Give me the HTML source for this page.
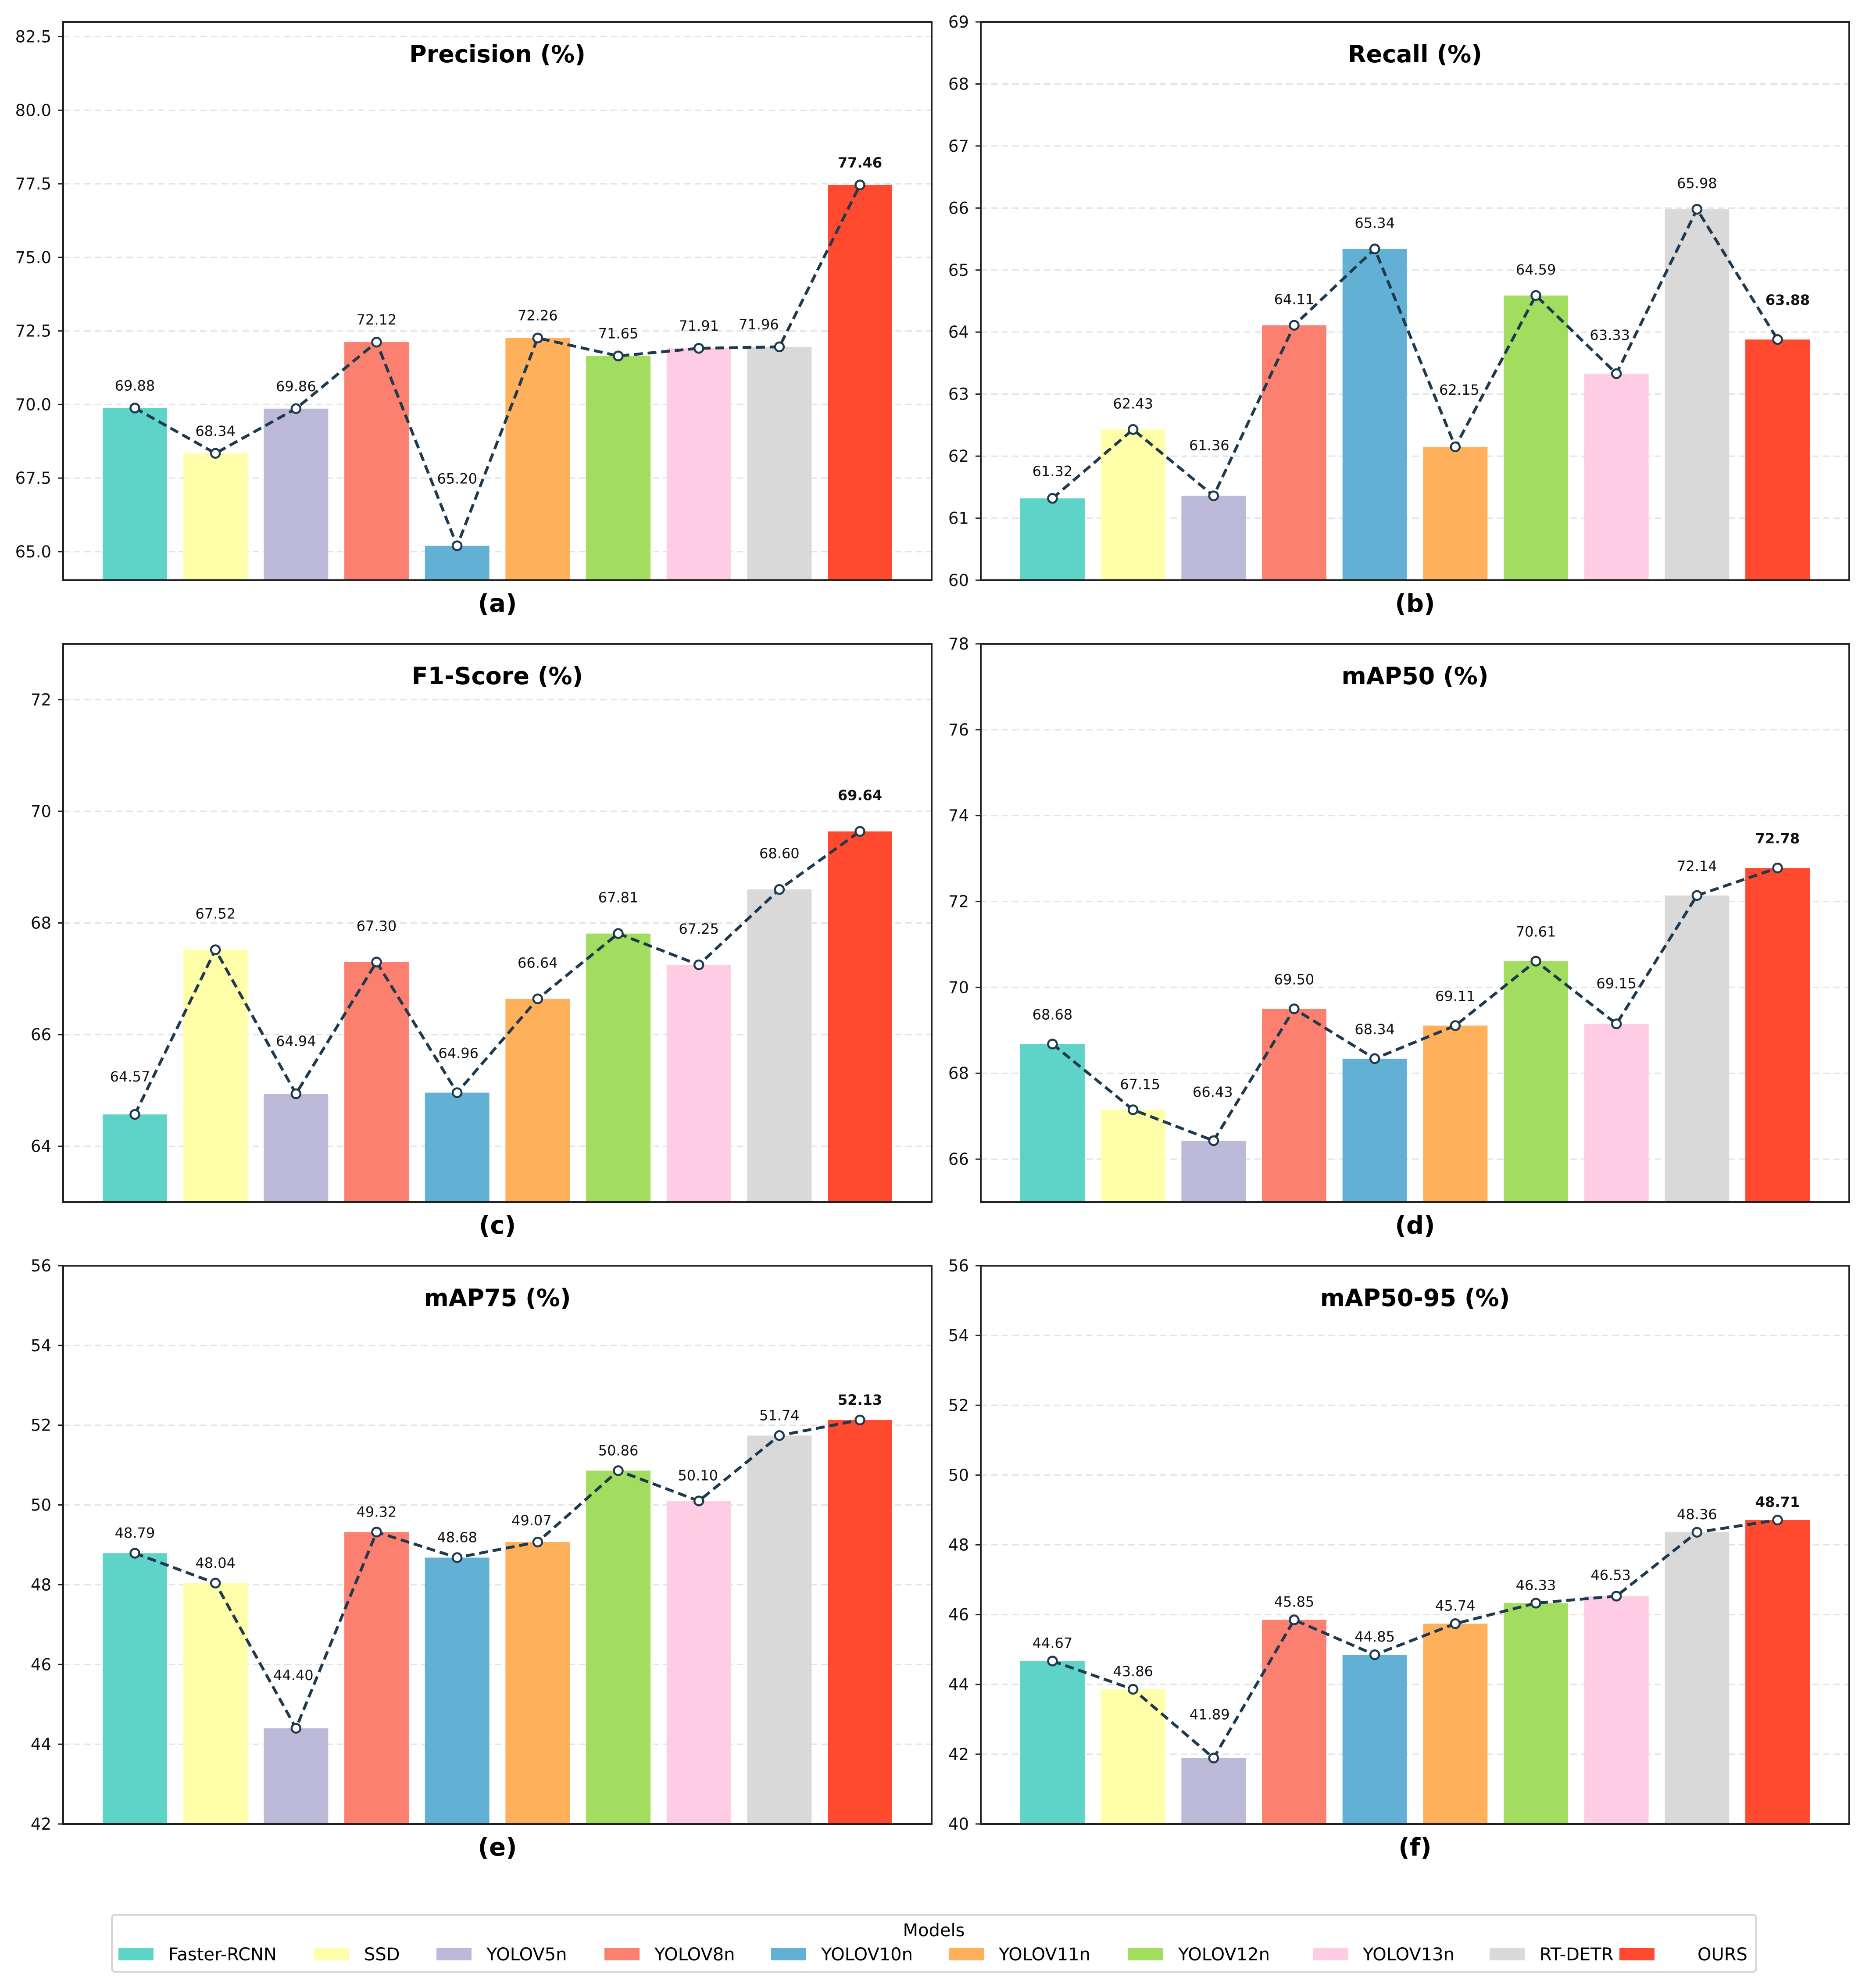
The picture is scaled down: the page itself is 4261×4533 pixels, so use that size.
<!DOCTYPE html>
<html><head><meta charset="utf-8">
<style>
html,body{margin:0;padding:0;background:#fff;}
svg{display:block;font-family:"DejaVu Sans","Liberation Sans",sans-serif;}
</style></head>
<body>
<svg id="chart" width="4261" height="4533" viewBox="0 0 4261 4533" xmlns="http://www.w3.org/2000/svg"></svg>
<script>
const models = ["Faster-RCNN","SSD","YOLOV5n","YOLOV8n","YOLOV10n","YOLOV11n","YOLOV12n","YOLOV13n","RT-DETR","OURS"];
const colors = ["#5ed3c7","#ffffaa","#bdb9d9","#fc8070","#62b0d4","#ffb05a","#a2dd60","#fecde4","#d9d9d9","#ff4a30"];
const titles = ["Precision (%)","Recall (%)","F1-Score (%)","mAP50 (%)","mAP75 (%)","mAP50-95 (%)"];
const panelLabels = ["(a)","(b)","(c)","(d)","(e)","(f)"];
const precisionValues = [69.88,68.34,69.86,72.12,65.20,72.26,71.65,71.91,71.96,77.46];
const recallValues = [61.32,62.43,61.36,64.11,65.34,62.15,64.59,63.33,65.98,63.88];
const f1Values = [64.57,67.52,64.94,67.30,64.96,66.64,67.81,67.25,68.60,69.64];
const map50Values = [68.68,67.15,66.43,69.50,68.34,69.11,70.61,69.15,72.14,72.78];
const map75Values = [48.79,48.04,44.40,49.32,48.68,49.07,50.86,50.10,51.74,52.13];
const map5095Values = [44.67,43.86,41.89,45.85,44.85,45.74,46.33,46.53,48.36,48.71];
const yMins = [64.03,60,63,65,42,40];
const yMaxs = [83.0,69,73,78,56,56];
const precisionTicks = [65,67.5,70,72.5,75,77.5,80,82.5];
const recallTicks = [60,61,62,63,64,65,66,67,68,69];
const f1Ticks = [64,66,68,70,72];
const map50Ticks = [66,68,70,72,74,76,78];
const map75Ticks = [42,44,46,48,50,52,54,56];
const map5095Ticks = [40,42,44,46,48,50,52,54,56];

const seriesList = [precisionValues,recallValues,f1Values,map50Values,map75Values,map5095Values];
const tickList = [precisionTicks,recallTicks,f1Ticks,map50Ticks,map75Ticks,map5095Ticks];
const tickDecimals = [1,0,0,0,0,0];

// label styling (pixel offsets of value labels above points; not data)
const labelBaseGap = [40,48,71,56,35,30];
const labelExtraGap = [
  [0,0,0,0,102,0,0,0,0,0],
  [3,0,56,0,0,71,0,29,0,31],
  [4,0,38,0,8,0,0,0,0,0],
  [0,-9,44,0,0,0,0,25,0,0],
  [0,0,75,0,0,3,0,12,0,0],
  [0,0,58,0,0,0,0,7,0,0]
];
const labelShiftX = [
  [0,0,0,0,0,0,0,0,-47,0],
  [0,0,-10,0,0,9,0,-15,0,23],
  [-11,0,0,0,3,0,0,0,0,0],
  [0,16,-2,0,0,0,0,0,0,0],
  [0,0,-6,0,0,-14,0,-2,0,0],
  [0,0,-9,0,0,0,0,-13,0,0]
];

const NS = "http://www.w3.org/2000/svg";
const svg = document.getElementById("chart");
function mk(tag, attrs, parent, text){
  const e = document.createElementNS(NS, tag);
  for (const k in attrs) e.setAttribute(k, attrs[k]);
  if (text !== undefined) e.textContent = text;
  (parent||svg).appendChild(e);
  return e;
}
const W = 1980, H = 1273;
const lefts = [144, 2236];
const tops = [50, 1468, 2886];
const xMin = -0.89, xMax = 9.89;

for (let p = 0; p < 6; p++) {
  const L = lefts[p % 2], T = tops[Math.floor(p / 2)];
  const vals = seriesList[p], yMin = yMins[p], yMax = yMaxs[p];
  const xs = i => L + (i - xMin) / (xMax - xMin) * W;
  const ys = v => T + H - (v - yMin) / (yMax - yMin) * H;
  const g = mk("g", {});
  
  
  tickList[p].forEach(t => {
    const y = ys(t);
    const gl = mk("line", {x1:L, x2:L+W, y1:y, y2:y, stroke:"#e3e3e3", "stroke-width":3, "stroke-dasharray":"15,9"}, g);
    
    
    const tk = mk("line", {x1:L-12, x2:L, y1:y, y2:y, stroke:"#222", "stroke-width":3}, g);
    
    
    const tl = mk("text", {x:L-27, y:y+13, "text-anchor":"end", "font-size":37, fill:"#111"}, g, t.toFixed(tickDecimals[p]));
    
    
  });
  vals.forEach((v, i) => {
    const x0 = xs(i - 0.4), x1 = xs(i + 0.4);
    const yt = ys(v);
    const b = mk("rect", {x:x0, y:yt, width:x1-x0, height:(T+H)-yt, fill:colors[i]}, g);
    
    
  });
  const pts = vals.map((v, i) => xs(i) + "," + ys(v)).join(" ");
  const ln = mk("polyline", {points:pts, fill:"none", stroke:"#1e3a50", "stroke-width":6.5, "stroke-dasharray":"20,11"}, g);
  
  
  vals.forEach((v, i) => {
    const c = mk("circle", {cx:xs(i), cy:ys(v), r:10, fill:"#fff", stroke:"#1e3a50", "stroke-width":4.5}, g);
    
    
    const gap = labelBaseGap[p] + labelExtraGap[p][i];
    const lb = mk("text", {x:xs(i) + labelShiftX[p][i], y:ys(v)-gap, "text-anchor":"middle", "font-size":32, fill:"#111", "font-weight": i === 9 ? "bold" : "normal"}, g, v.toFixed(2));
    
    
  });
  const fr = mk("rect", {x:L, y:T, width:W, height:H, fill:"none", stroke:"#222", "stroke-width":4}, g);
  
  
  const tt = mk("text", {x:L+W/2, y:T+92, "text-anchor":"middle", "font-size":54, "font-weight":"bold", fill:"#000"}, g, titles[p]);
  
  
  const pl = mk("text", {x:L+W/2, y:T+H+72, "text-anchor":"middle", "font-size":56, "font-weight":"bold", fill:"#000"}, g, panelLabels[p]);
  
  
}

const lg = mk("g", {});


const lbox = mk("rect", {x:255, y:4366, width:3749, height:130, rx:8, fill:"#fff", stroke:"#d6d6d6", "stroke-width":4}, lg);


const ltitle = mk("text", {x:2129, y:4415, "text-anchor":"middle", "font-size":40, fill:"#000"}, lg, "Models");


const legendX = [270, 716, 995, 1378, 1758, 2163, 2572, 2993, 3396, 3692];
const legendTextGap = [114,114,114,114,114,114,114,114,114,178];
models.forEach((m, i) => {
  const e = mk("g", {}, lg);
  
  
  mk("rect", {x:legendX[i], y:4442, width:80, height:28, fill:colors[i]}, e);
  mk("text", {x:legendX[i]+legendTextGap[i], y:4470, "font-size":40, fill:"#000"}, e, m);
});
</script>
</body></html>
